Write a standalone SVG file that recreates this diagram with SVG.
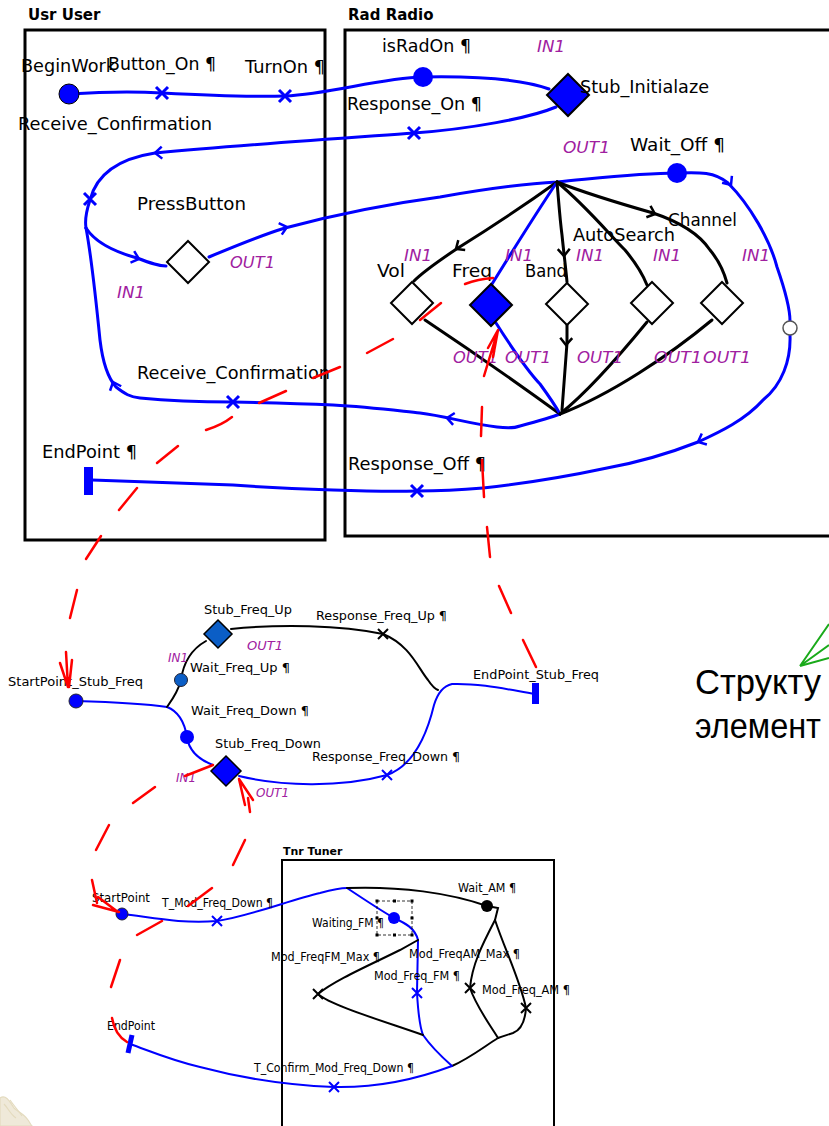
<svg xmlns="http://www.w3.org/2000/svg" xmlns:xlink="http://www.w3.org/1999/xlink" width="829" height="1126" viewBox="0 0 829 1126">
  <style>
    .bg{fill:#ffffff}
    .box{fill:none;stroke:#000;stroke-width:3}
    .box2{fill:none;stroke:#000;stroke-width:2}
    .title{font-family:"DejaVu Sans",sans-serif;font-weight:bold;fill:#000}
    .lbl{font-family:"DejaVu Sans",sans-serif;fill:#000}
    .l1{font-size:17px}
    .l2{font-size:13px}
    .l3{font-size:11.5px}
    .port{font-family:"DejaVu Sans",sans-serif;font-style:italic;fill:#a0209f}
    .bl{fill:none;stroke:#0000ff;stroke-width:3;stroke-linecap:round;stroke-linejoin:round}
    .bl2{fill:none;stroke:#0000ff;stroke-width:2;stroke-linecap:round}
    .bk{fill:none;stroke:#000;stroke-width:3;stroke-linecap:round;stroke-linejoin:round}
    .bk2{fill:none;stroke:#000;stroke-width:2;stroke-linecap:round}
    .red{fill:none;stroke:#ff0000;stroke-width:2.5;stroke-linecap:round}
    .grn{fill:none;stroke:#1aaa1a;stroke-width:2}
    .ru{font-family:"Liberation Sans",Arial,sans-serif;font-size:35px;fill:#000}
  </style>
  <defs>
    <path id="chev" d="M-7,-6 L0,0 L-7,6" fill="none" stroke-width="2.5" stroke-linejoin="miter"/>
    <path id="xm" d="M-6,-6 L6,6 M-6,6 L6,-6" fill="none" stroke-width="3"/>
    <path id="xs" d="M-5,-5 L5,5 M-5,5 L5,-5" fill="none" stroke-width="2"/>
  </defs>
  <rect class="bg" x="0" y="0" width="829" height="1126"/>

  <!-- component boxes -->
  <g id="usr-user">
    <text class="title" x="28" y="20" font-size="15">Usr User</text>
    <rect class="box" x="25" y="30" width="300" height="510"/>
  </g>
  <g id="rad-radio">
    <text class="title" x="348" y="20" font-size="15">Rad Radio</text>
    <rect class="box" x="345" y="30" width="520" height="506"/>
  </g>
  <g id="tnr-tuner">
    <text class="title" x="283" y="855" font-size="11">Tnr Tuner</text>
    <rect class="box2" x="282" y="860" width="272" height="290"/>
  </g>

  <!-- connectors -->
  <g id="connectors">
    <!-- user -> radio start path -->
    <path class="bl" d="M69,94 C100,92 130,91 162,93 C200,95 250,97 285,96 C330,94 380,78 423,77 C480,76 525,80 549,89"/>
    <!-- Response_On back to user -->
    <path class="bl" d="M556,107 C530,118 470,129 414,133 C330,139 240,145 155,153 C110,160 95,180 90,200 C86,212 85,222 86,228"/>
    <path class="bl" d="M86,228 C95,242 115,252 137,258 C150,263 158,266 166,266"/>
    <path class="bl" d="M86,228 C92,260 96,300 100,340 C103,365 108,378 116,387 C125,394 130,397 140,398 C170,401 200,402 233,402 C280,403 310,404 333,405 C370,407 400,411 420,413 C445,416 470,424 497,427 C505,428 515,428 520,426 C535,422 550,418 560,414"/>
    <!-- PressButton -> radio -> EndPoint -->
    <path class="bl" d="M209,257 C240,244 262,235 285,228 C330,216 380,205 440,197 C480,190 520,184 557,182 C600,178 640,173 677,173 C700,172 715,172 728,183 C750,205 770,240 777,267 C785,290 790,310 790,321"/>
    <path class="bl" d="M790,335 C791,360 782,385 763,400 C745,420 720,432 698,442 C670,453 640,462 607,468 C560,478 520,484 483,488 C460,490 440,491 417,491 C390,492 360,491 333,490 C300,489 260,487 233,485 C180,483 130,481 92,480"/>
    <!-- fork to branches -->
    <path class="bk" d="M557,182 C525,205 490,228 458,248 C440,260 425,270 414,281"/>
    <path class="bl" d="M557,182 C535,215 510,255 492,284"/>
    <path class="bk" d="M557,182 C559,205 560,220 562,235 C564,255 566,270 567,282"/>
    <path class="bk" d="M557,182 C585,205 610,235 625,250 C635,262 643,275 647,285"/>
    <path class="bk" d="M557,182 C590,195 625,205 653,213 C680,222 700,235 710,250 C720,262 724,272 727,283"/>
    <!-- branches to join -->
    <path class="bk" d="M425,320 C470,350 520,385 560,414"/>
    <path class="bl" d="M496,323 C510,345 525,368 540,384 C548,395 555,405 560,414"/>
    <path class="bk" d="M567,325 L567,343 L562,410"/>
    <path class="bk" d="M647,322 C620,355 590,390 560,414"/>
    <path class="bk" d="M712,320 C670,355 610,395 560,414"/>

    <!-- direction chevrons -->
    <use href="#chev" stroke="#0000ff" transform="translate(155,153) rotate(177)"/>
    <use href="#chev" stroke="#0000ff" transform="translate(139,259) rotate(18)"/>
    <use href="#chev" stroke="#0000ff" transform="translate(113,382) rotate(-112)"/>
    <use href="#chev" stroke="#0000ff" transform="translate(447,418) rotate(188)"/>
    <use href="#chev" stroke="#0000ff" transform="translate(287,227) rotate(-15)"/>
    <use href="#chev" stroke="#0000ff" transform="translate(731,185) rotate(55)"/>
    <use href="#chev" stroke="#0000ff" transform="translate(698,442) rotate(155)"/>
    <use href="#chev" stroke="#000" transform="translate(456,249) rotate(145)"/>
    <use href="#chev" stroke="#000" transform="translate(564,256) rotate(88)"/>
    <use href="#chev" stroke="#000" transform="translate(655,214) rotate(20)"/>
    <use href="#chev" stroke="#000" transform="translate(566,345) rotate(92)"/>

    <!-- responsibility points -->
    <use href="#xm" stroke="#0000ff" transform="translate(162,93)"/>
    <use href="#xm" stroke="#0000ff" transform="translate(285,96)"/>
    <use href="#xm" stroke="#0000ff" transform="translate(414,133)"/>
    <use href="#xm" stroke="#0000ff" transform="translate(90,199)"/>
    <use href="#xm" stroke="#0000ff" transform="translate(233,402)"/>
    <use href="#xm" stroke="#0000ff" transform="translate(417,491)"/>

    <!-- stub plug-in: Freq -->
    <path class="bl2" d="M76,701 C110,702 140,703 167,707 C180,712 185,725 187,737 C189,752 200,760 213,765"/>
    <path class="bk2" d="M167,707 C172,700 178,692 181,680 C183,665 190,650 206,641"/>
    <path class="bk2" d="M231,629 C280,624 340,625 383,634 C410,645 418,668 428,680 C432,686 435,689 438,690"/>
    <path class="bl2" d="M239,776 C280,786 340,788 387,775 C415,765 428,730 434,705 C437,695 443,686 452,684 C480,683 510,690 535,694"/>
    <use href="#xs" stroke="#000" transform="translate(383,634)"/>
    <use href="#xs" stroke="#0000ff" transform="translate(387,775)"/>

    <!-- tuner path -->
    <path class="bl2" d="M122,914 C150,917 180,924 217,921 C250,916 290,900 320,893 C335,889 345,888 347,888"/>
    <path class="bl2" d="M347,888 C365,900 380,910 394,918 C405,923 415,928 418,940 L417,993 C418,1010 419,1025 423,1035 C432,1048 443,1058 452,1066"/>
    <path class="bk2" d="M347,888 C400,886 450,893 487,906 L498,908 L495,920"/>
    <path class="bk2" d="M495,920 C482,945 472,965 470,988 C476,1006 490,1025 498,1038"/>
    <path class="bk2" d="M495,920 C505,950 520,980 526,1008 C525,1022 521,1030 513,1033 C507,1035 503,1036 498,1038"/>
    <path class="bk2" d="M498,1038 C485,1046 470,1058 452,1066"/>
    <path class="bk2" d="M418,940 L400,950 C370,965 335,980 318,994 C330,1005 380,1020 423,1035"/>
    <path class="bl2" d="M452,1066 C420,1078 380,1088 334,1087 C280,1085 230,1075 200,1067 C170,1060 150,1051 130,1044"/>
    <use href="#xs" stroke="#0000ff" transform="translate(217,921)"/>
    <use href="#xs" stroke="#0000ff" transform="translate(417,993)"/>
    <use href="#xs" stroke="#000" transform="translate(318,994)"/>
    <use href="#xs" stroke="#000" transform="translate(470,988)"/>
    <use href="#xs" stroke="#000" transform="translate(526,1008)"/>
    <use href="#xs" stroke="#0000ff" transform="translate(334,1087)"/>
  </g>

  <!-- user component nodes -->
  <g id="node-beginwork">
    <circle cx="69" cy="94" r="10" fill="#0000ff" stroke="#000" stroke-width="1"/>
    <text class="lbl l1" x="21" y="72" textLength="95" lengthAdjust="spacingAndGlyphs">BeginWork</text>
  </g>
  <g id="node-button-on"><text class="lbl l1" x="108" y="70" textLength="108" lengthAdjust="spacingAndGlyphs">Button_On ¶</text></g>
  <g id="node-turnon"><text class="lbl l1" x="245" y="73" textLength="80" lengthAdjust="spacingAndGlyphs">TurnOn ¶</text></g>
  <g id="node-receive-confirmation-1"><text class="lbl l1" x="18" y="130" textLength="194" lengthAdjust="spacingAndGlyphs">Receive_Confirmation</text></g>
  <g id="node-pressbutton">
    <path d="M188,241 L209,262 L188,283 L167,262 Z" fill="#fff" stroke="#000" stroke-width="2"/>
    <text class="lbl l1" x="137" y="210" textLength="109" lengthAdjust="spacingAndGlyphs">PressButton</text>
    <text class="port" x="230" y="268" font-size="16" textLength="45" lengthAdjust="spacingAndGlyphs">OUT1</text>
    <text class="port" x="117" y="298" font-size="16" textLength="28" lengthAdjust="spacingAndGlyphs">IN1</text>
  </g>
  <g id="node-receive-confirmation-2"><text class="lbl l1" x="137" y="379" textLength="193" lengthAdjust="spacingAndGlyphs">Receive_Confirmation</text></g>
  <g id="node-endpoint">
    <rect x="84" y="467" width="9" height="28" fill="#0000ff"/>
    <text class="lbl l1" x="42" y="458" textLength="95" lengthAdjust="spacingAndGlyphs">EndPoint ¶</text>
  </g>

  <!-- radio component nodes -->
  <g id="node-isradon">
    <circle cx="423" cy="77" r="10" fill="#0000ff"/>
    <text class="lbl l1" x="382" y="52" textLength="89" lengthAdjust="spacingAndGlyphs">isRadOn ¶</text>
  </g>
  <g id="node-stub-initialaze">
    <path d="M568,74 L589,95 L568,116 L547,95 Z" fill="#0000ff" stroke="#000" stroke-width="2"/>
    <text class="lbl l1" x="580" y="93" textLength="129" lengthAdjust="spacingAndGlyphs">Stub_Initialaze</text>
    <text class="port" x="537" y="52" font-size="16" textLength="28" lengthAdjust="spacingAndGlyphs">IN1</text>
    <text class="port" x="563" y="153" font-size="16" textLength="47" lengthAdjust="spacingAndGlyphs">OUT1</text>
  </g>
  <g id="node-response-on"><text class="lbl l1" x="347" y="110" textLength="135" lengthAdjust="spacingAndGlyphs">Response_On ¶</text></g>
  <g id="node-wait-off">
    <circle cx="677" cy="173" r="10" fill="#0000ff"/>
    <text class="lbl l1" x="630" y="151" textLength="95" lengthAdjust="spacingAndGlyphs">Wait_Off ¶</text>
  </g>
  <g id="node-timer">
    <circle cx="790" cy="328" r="7" fill="#fff" stroke="#555" stroke-width="1.5"/>
    <text class="port" x="742" y="261" font-size="16" textLength="28" lengthAdjust="spacingAndGlyphs">IN1</text>
  </g>
  <g id="node-vol">
    <path d="M412,282 L433,303 L412,324 L391,303 Z" fill="#fff" stroke="#000" stroke-width="2"/>
    <text class="lbl l1" x="377" y="277" textLength="28" lengthAdjust="spacingAndGlyphs">Vol</text>
    <text class="port" x="404" y="261" font-size="16" textLength="28" lengthAdjust="spacingAndGlyphs">IN1</text>
    <text class="port" x="453" y="363" font-size="16" textLength="45" lengthAdjust="spacingAndGlyphs">OUT1</text>
  </g>
  <g id="node-freq">
    <path d="M491,284 L512,305 L491,326 L470,305 Z" fill="#0000ff" stroke="#000" stroke-width="2"/>
    <text class="lbl l1" x="452" y="277" textLength="40" lengthAdjust="spacingAndGlyphs">Freq</text>
    <text class="port" x="505" y="261" font-size="16" textLength="28" lengthAdjust="spacingAndGlyphs">IN1</text>
    <text class="port" x="505" y="363" font-size="16" textLength="46" lengthAdjust="spacingAndGlyphs">OUT1</text>
  </g>
  <g id="node-band">
    <path d="M567,283 L588,304 L567,325 L546,304 Z" fill="#fff" stroke="#000" stroke-width="2"/>
    <text class="lbl l1" x="525" y="277" textLength="42" lengthAdjust="spacingAndGlyphs">Band</text>
    <text class="port" x="576" y="261" font-size="16" textLength="28" lengthAdjust="spacingAndGlyphs">IN1</text>
    <text class="port" x="577" y="363" font-size="16" textLength="46" lengthAdjust="spacingAndGlyphs">OUT1</text>
  </g>
  <g id="node-autosearch">
    <path d="M652,282 L673,303 L652,324 L631,303 Z" fill="#fff" stroke="#000" stroke-width="2"/>
    <text class="lbl l1" x="573" y="241" textLength="102" lengthAdjust="spacingAndGlyphs">AutoSearch</text>
    <text class="port" x="653" y="261" font-size="16" textLength="28" lengthAdjust="spacingAndGlyphs">IN1</text>
    <text class="port" x="654" y="363" font-size="16" textLength="48" lengthAdjust="spacingAndGlyphs">OUT1</text>
  </g>
  <g id="node-channel">
    <path d="M722,282 L743,303 L722,324 L701,303 Z" fill="#fff" stroke="#000" stroke-width="2"/>
    <text class="lbl l1" x="668" y="226" textLength="69" lengthAdjust="spacingAndGlyphs">Channel</text>
    <text class="port" x="703" y="363" font-size="16" textLength="48" lengthAdjust="spacingAndGlyphs">OUT1</text>
  </g>
  <g id="node-response-off"><text class="lbl l1" x="348" y="470" textLength="138" lengthAdjust="spacingAndGlyphs">Response_Off ¶</text></g>

  <!-- Freq stub plug-in nodes -->
  <g id="node-startpoint-stub-freq">
    <circle cx="76" cy="701" r="7" fill="#0000ff" stroke="#223" stroke-width="1"/>
    <text class="lbl l2" x="8" y="686" textLength="135" lengthAdjust="spacingAndGlyphs">StartPoint_Stub_Freq</text>
  </g>
  <g id="node-wait-freq-up">
    <circle cx="181" cy="680" r="6.5" fill="#0b5ec6" stroke="#223" stroke-width="1"/>
    <text class="lbl l2" x="190" y="672" textLength="100" lengthAdjust="spacingAndGlyphs">Wait_Freq_Up ¶</text>
    <text class="port" x="168" y="662" font-size="12.5" textLength="20" lengthAdjust="spacingAndGlyphs">IN1</text>
  </g>
  <g id="node-stub-freq-up">
    <path d="M218,620 L232,634 L218,648 L204,634 Z" fill="#0b5ec6" stroke="#000" stroke-width="1.5"/>
    <text class="lbl l2" x="204" y="614" textLength="88" lengthAdjust="spacingAndGlyphs">Stub_Freq_Up</text>
    <text class="port" x="247" y="650" font-size="12.5" textLength="36" lengthAdjust="spacingAndGlyphs">OUT1</text>
  </g>
  <g id="node-response-freq-up"><text class="lbl l2" x="316" y="620" textLength="131" lengthAdjust="spacingAndGlyphs">Response_Freq_Up ¶</text></g>
  <g id="node-wait-freq-down">
    <circle cx="187" cy="737" r="7" fill="#0000ff"/>
    <text class="lbl l2" x="191" y="715" textLength="118" lengthAdjust="spacingAndGlyphs">Wait_Freq_Down ¶</text>
  </g>
  <g id="node-stub-freq-down">
    <path d="M226,756 L241,771 L226,786 L211,771 Z" fill="#0000ff" stroke="#000" stroke-width="1.5"/>
    <text class="lbl l2" x="215" y="748" textLength="106" lengthAdjust="spacingAndGlyphs">Stub_Freq_Down</text>
    <text class="port" x="176" y="782" font-size="12.5" textLength="20" lengthAdjust="spacingAndGlyphs">IN1</text>
    <text class="port" x="256" y="797" font-size="12.5" textLength="33" lengthAdjust="spacingAndGlyphs">OUT1</text>
  </g>
  <g id="node-response-freq-down"><text class="lbl l2" x="312" y="761" textLength="148" lengthAdjust="spacingAndGlyphs">Response_Freq_Down ¶</text></g>
  <g id="node-endpoint-stub-freq">
    <rect x="532" y="683" width="7" height="21" fill="#0000ff"/>
    <text class="lbl l2" x="473" y="679" textLength="126" lengthAdjust="spacingAndGlyphs">EndPoint_Stub_Freq</text>
  </g>

  <!-- tuner plug-in nodes -->
  <g id="node-startpoint">
    <circle cx="122" cy="914" r="6" fill="#0000ff" stroke="#223" stroke-width="1"/>
    <text class="lbl l3" x="92" y="902" textLength="58" lengthAdjust="spacingAndGlyphs">StartPoint</text>
  </g>
  <g id="node-t-mod-freq-down"><text class="lbl l3" x="162" y="907" textLength="111" lengthAdjust="spacingAndGlyphs">T_Mod_Freq_Down ¶</text></g>
  <g id="node-waiting-fm">
    <circle cx="394" cy="918" r="6" fill="#0000ff"/>
    <rect x="377" y="901" width="35" height="34" fill="none" stroke="#000" stroke-width="0.8" stroke-dasharray="3 2"/>
    <g fill="#000">
      <rect x="375.5" y="899.5" width="3" height="3"/><rect x="393" y="899.5" width="3" height="3"/><rect x="410.5" y="899.5" width="3" height="3"/>
      <rect x="375.5" y="916.5" width="3" height="3"/><rect x="410.5" y="916.5" width="3" height="3"/>
      <rect x="375.5" y="933.5" width="3" height="3"/><rect x="393" y="933.5" width="3" height="3"/><rect x="410.5" y="933.5" width="3" height="3"/>
    </g>
    <text class="lbl l3" x="312" y="927" textLength="72" lengthAdjust="spacingAndGlyphs">Waiting_FM ¶</text>
  </g>
  <g id="node-wait-am">
    <circle cx="487" cy="906" r="6" fill="#000"/>
    <text class="lbl l3" x="458" y="892" textLength="58" lengthAdjust="spacingAndGlyphs">Wait_AM ¶</text>
  </g>
  <g id="node-mod-freqfm-max"><text class="lbl l3" x="271" y="961" textLength="109" lengthAdjust="spacingAndGlyphs">Mod_FreqFM_Max ¶</text></g>
  <g id="node-mod-freqam-max"><text class="lbl l3" x="409" y="958" textLength="111" lengthAdjust="spacingAndGlyphs">Mod_FreqAM_Max ¶</text></g>
  <g id="node-mod-freq-fm"><text class="lbl l3" x="374" y="980" textLength="86" lengthAdjust="spacingAndGlyphs">Mod_Freq_FM ¶</text></g>
  <g id="node-mod-freq-am"><text class="lbl l3" x="482" y="994" textLength="88" lengthAdjust="spacingAndGlyphs">Mod_Freq_AM ¶</text></g>
  <g id="node-t-confirm"><text class="lbl l3" x="254" y="1072" textLength="160" lengthAdjust="spacingAndGlyphs">T_Confirm_Mod_Freq_Down ¶</text></g>
  <g id="node-endpoint-tuner">
    <path d="M132,1035 L128,1053" stroke="#0000ff" stroke-width="5" fill="none"/>
    <text class="lbl l3" x="107" y="1030" textLength="48" lengthAdjust="spacingAndGlyphs">EndPoint</text>
  </g>

  <!-- hand-drawn red plug-in binding strokes -->
  <g id="binding-strokes" class="red">
    <path d="M465,284 Q478,279 493,278"/>
    <path d="M420,320 L441,303"/>
    <path d="M367,353 L393,339"/>
    <path d="M313,378 L340,367"/>
    <path d="M259,403 L286,391"/>
    <path d="M206,430 Q222,425 232,417"/>
    <path d="M157,463 L178,446"/>
    <path d="M119,510 L137,488"/>
    <path d="M86,559 L101,536"/>
    <path d="M70,618 L77,590"/>
    <path d="M66,652 L68,687 M60,663 L68,687 M72,660 L69,687"/>

    <path d="M484,376 L498,330 L493,357 M498,330 L488,348"/>
    <path d="M482,407 L481,436"/>
    <path d="M482,460 L484,497"/>
    <path d="M487,527 L490,557"/>
    <path d="M499,586 L511,613"/>
    <path d="M523,640 L536,667"/>

    <path d="M185,776 L213,765"/>
    <path d="M155,787 L133,803"/>
    <path d="M109,825 L96,850"/>
    <path d="M92,880 L97,903"/>
    <path d="M93,905 L119,912 M98,897 L118,912"/>

    <path d="M239,779 L245,805 M239,779 L253,800 M248,798 L250,812"/>
    <path d="M245,840 L233,865"/>
    <path d="M212,888 L188,906"/>
    <path d="M162,921 L137,935"/>
    <path d="M120,960 L111,987"/>
    <path d="M112,1018 Q115,1035 127,1042"/>
  </g>

  <!-- callout -->
  <g id="callout">
    <path class="grn" d="M800,666 L829,624 M800,666 L829,645 M800,666 L829,658"/>
    <text class="ru" x="695" y="694" textLength="126" lengthAdjust="spacingAndGlyphs">Структу</text>
    <text class="ru" x="695" y="738" textLength="126" lengthAdjust="spacingAndGlyphs">элемент</text>
  </g>

  <!-- faint ornament in the corner -->
  <g id="ornament" fill="#e6dcc0" stroke="#d2c394" stroke-width="1.2" opacity="0.6">
    <path d="M0,1098 C6,1094 10,1102 14,1108 C18,1112 24,1114 28,1120 C30,1123 31,1125 32,1126 L0,1126 Z"/>
    <path d="M4,1104 C8,1108 10,1114 16,1118 M10,1100 C14,1106 18,1110 22,1116" fill="none"/>
  </g>
</svg>
